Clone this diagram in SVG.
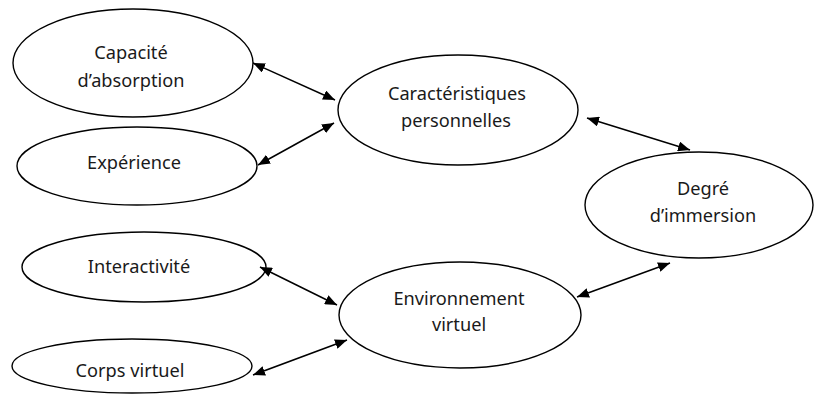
<svg xmlns="http://www.w3.org/2000/svg" width="814" height="394" viewBox="0 0 814 394">
<style>
.node ellipse{fill:#fff;stroke:#000;stroke-width:1.4}
.node text{font-family:"Noto Sans","Open Sans","DejaVu Sans",sans-serif;font-size:18.2px;fill:#1a1a1a;text-anchor:middle}
.conn line{stroke:#000;stroke-width:1.5;marker-start:url(#ah);marker-end:url(#ah)}
</style>
<defs>
<marker id="ah" markerUnits="userSpaceOnUse" markerWidth="12" markerHeight="10" refX="12" refY="5" orient="auto-start-reverse">
<path d="M0,0 L12,5 L0,10 z" fill="#000"/>
</marker>
</defs>
<rect width="814" height="394" fill="#fff"/>
<g id="node-capacite" class="node">
<ellipse cx="133" cy="63" rx="120" ry="54"/>
<text x="131" y="59">Capacité</text>
<text x="131" y="87">d’absorption</text>
</g>
<g id="node-experience" class="node">
<ellipse cx="137" cy="166" rx="120" ry="39"/>
<text x="134" y="169">Expérience</text>
</g>
<g id="node-caracteristiques" class="node">
<ellipse cx="458" cy="110" rx="120" ry="55"/>
<text x="457" y="100">Caractéristiques</text>
<text x="456" y="127">personnelles</text>
</g>
<g id="node-degre" class="node">
<ellipse cx="699" cy="205" rx="114" ry="53"/>
<text x="703" y="195">Degré</text>
<text x="703" y="222">d’immersion</text>
</g>
<g id="node-interactivite" class="node">
<ellipse cx="144" cy="267" rx="122" ry="35"/>
<text x="139" y="273">Interactivité</text>
</g>
<g id="node-environnement" class="node">
<ellipse cx="460" cy="315" rx="121" ry="53"/>
<text x="459" y="305">Environnement</text>
<text x="459" y="331">virtuel</text>
</g>
<g id="node-corps" class="node">
<ellipse cx="132" cy="366" rx="120" ry="27"/>
<text x="130" y="377">Corps virtuel</text>
</g>
<g id="connectors" class="conn">
<line x1="253" y1="63" x2="335" y2="100"/>
<line x1="258" y1="165" x2="334" y2="123"/>
<line x1="587" y1="118" x2="690" y2="150"/>
<line x1="577" y1="297" x2="670" y2="263"/>
<line x1="260" y1="267" x2="337" y2="305"/>
<line x1="253" y1="375" x2="347" y2="340"/>
</g>
</svg>
